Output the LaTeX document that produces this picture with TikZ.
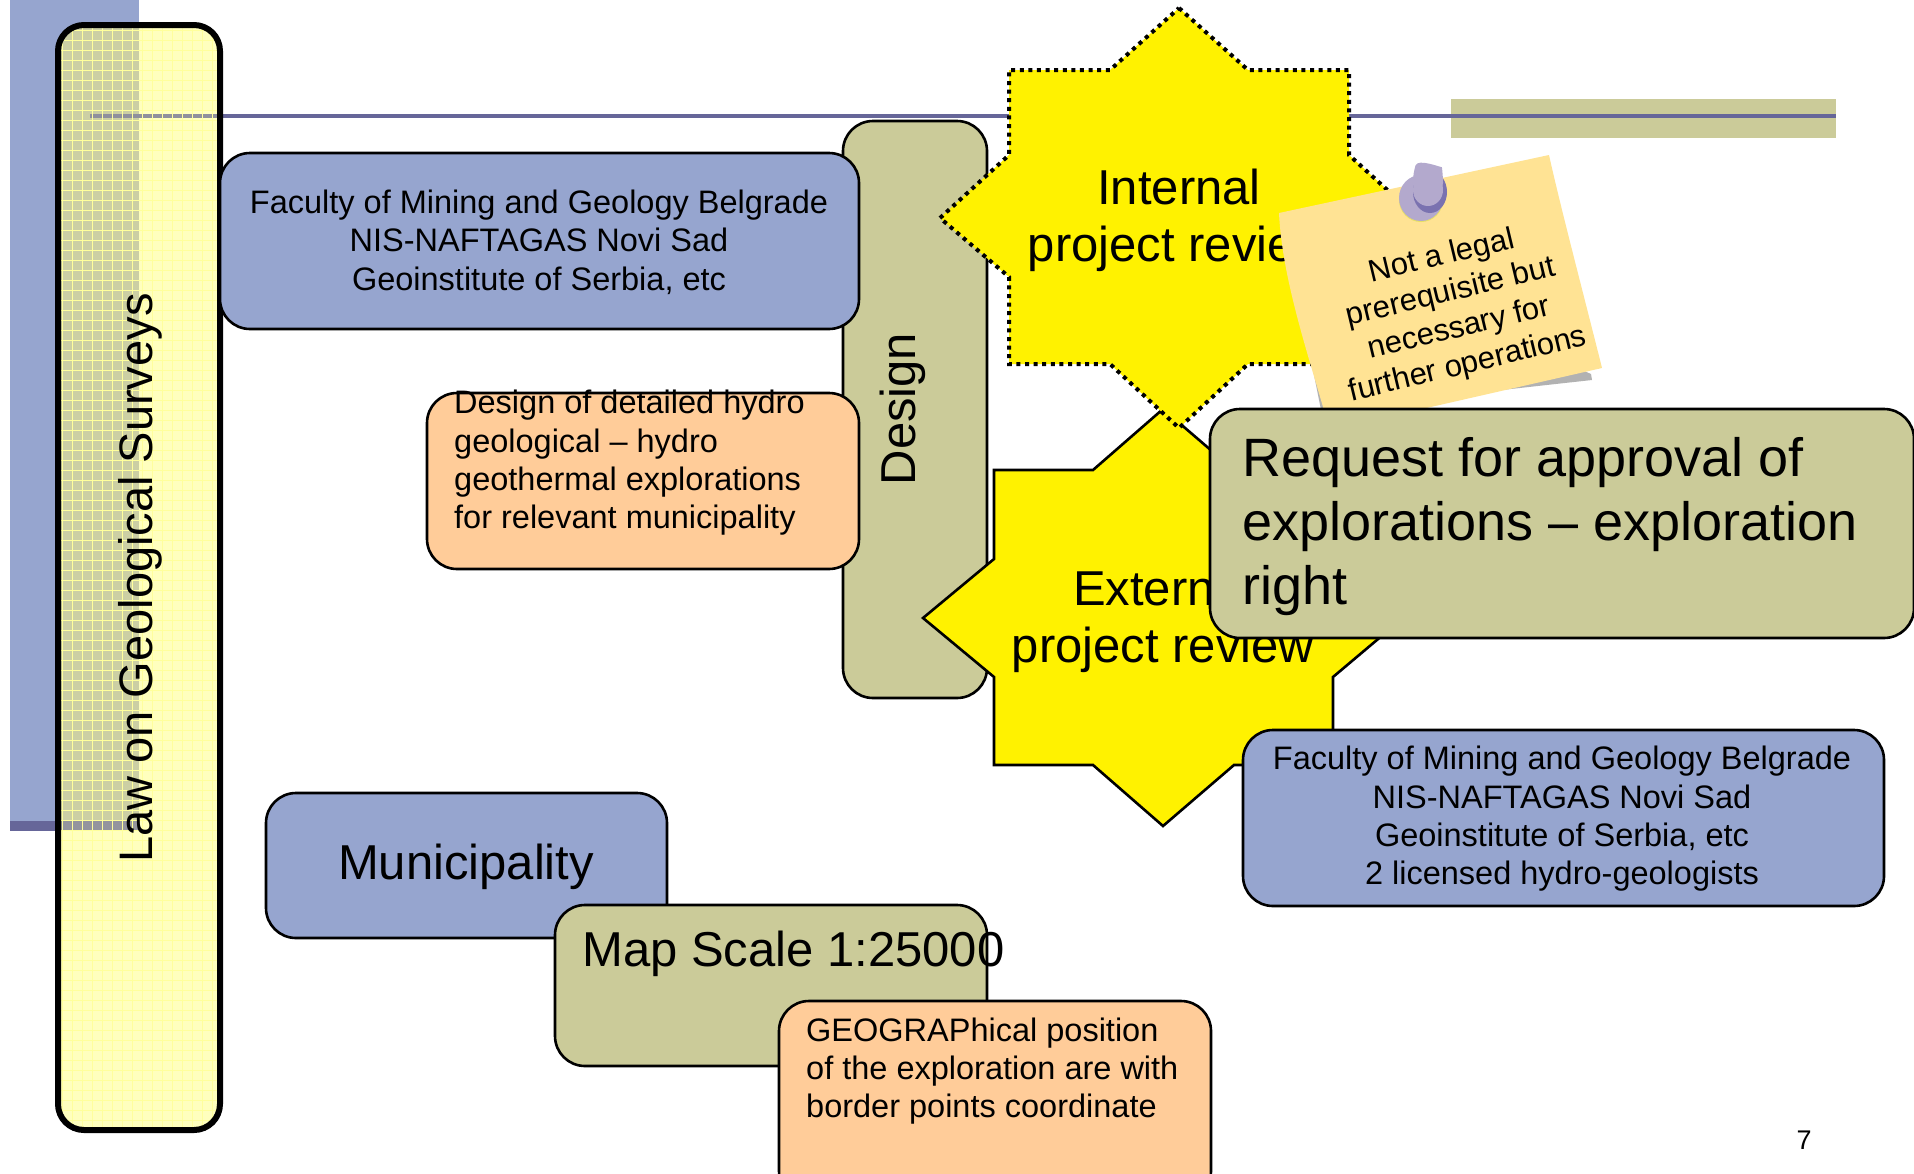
\documentclass[tikz,border=0pt]{standalone}
\usepackage{fontspec}
\setmainfont{Liberation Sans}
\definecolor{bluefill}{HTML}{96A5CF}
\definecolor{olivefill}{HTML}{CBCB99}
\definecolor{orangefill}{HTML}{FFCC99}
\definecolor{barcol}{HTML}{666699}
\definecolor{lawfill}{HTML}{FFFFBE}
\definecolor{lawgrid}{HTML}{FFFF9C}
\definecolor{lawdark}{HTML}{CCCFA4}
\definecolor{notefill}{HTML}{FFE394}
\definecolor{pinlight}{HTML}{B3A9CD}
\definecolor{pindark}{HTML}{7A72B0}
\tikzset{
  x=1pt,y=-1pt,
  boxbase/.style={draw=black,line width=2.6pt,rounded corners=30pt,inner sep=0pt},
  bluebox/.style={boxbase,fill=bluefill},
  olivebox/.style={boxbase,fill=olivefill},
  orangebox/.style={boxbase,fill=orangefill},
  txt/.style={inner sep=0pt,text=black},
  small/.style={txt,font=\fontsize{32.5}{38.3}\selectfont},
  big/.style={txt,font=\fontsize{54}{64}\selectfont},
  mid/.style={txt,font=\fontsize{49}{57}\selectfont},
  notetxt/.style={txt,font=\fontsize{31}{37}\selectfont,rotate=13.5,align=center},
}
\begin{document}
\begin{tikzpicture}
\useasboundingbox (0,0) rectangle (1914,1173);
% background decoration
\fill[bluefill] (10,0) rectangle (139,830);
\fill[barcol] (10,821) rectangle (139,831);
\fill[olivefill] (1451,99) rectangle (1836,138);
\fill[barcol] (90,113.5) rectangle (1836,118);
% law box
\fill[lawfill,rounded corners=26pt] (58,25) rectangle (220,1130);
\begin{scope}
\clip[rounded corners=26pt] (58,25) rectangle (220,1130);
\fill[lawdark] (58,25) rectangle (139,831);
\fill[barcol!55!lawdark] (58,821) rectangle (139,831);
\fill[barcol!60!lawdark] (90,113.5) rectangle (220,118);
\foreach \gx in {62,72,...,222}{\draw[lawgrid,line width=1pt] (\gx,25) -- (\gx,1130);}
\foreach \gy in {30,40,...,1130}{\draw[lawgrid,line width=1pt] (58,\gy) -- (220,\gy);}
\end{scope}
\node[draw=black,line width=6pt,rounded corners=26pt,minimum width=162pt,minimum height=1105pt,inner sep=0pt] (law) at (139,577.5) {};
\node[mid,rotate=90,font=\fontsize{47}{57}\selectfont] (lawtxt) at (140,578) {Law on Geological Surveys};
% design
\node[olivebox,minimum width=144pt,minimum height=577pt] (design) at (915,409.5) {};
\node[mid,rotate=90] (designtxt) at (903,409) {Design};
% first blue
\node[bluebox,minimum width=639pt,minimum height=176pt] (fac) at (539.5,241) {};
\node[small,align=center] (factxt) at (539,242) {Faculty of Mining and Geology Belgrade\\NIS-NAFTAGAS Novi Sad\\Geoinstitute of Serbia, etc};
% orange
\node[orangebox,minimum width=432pt,minimum height=176pt] (hyd) at (643,481) {};
\node[small,align=left,anchor=west] (hydtxt) at (454,463) {Design of detailed hydro\\geological -- hydro\\geothermal explorations\\for relevant municipality};
% external star
\path[fill=yellow,draw=black,line width=2.6pt] (1163,409) -- (1234,470) -- (1333,470) -- (1333,559) -- (1403,618) -- (1333,677) -- (1333,765) -- (1234,765) -- (1163,826) -- (1093,765) -- (994,765) -- (994,677) -- (923,618) -- (994,559) -- (994,470) -- (1093,470) -- cycle;
\node[mid,align=center] (exttxt) at (1163,621) {External\\project review};
% internal star
\path[fill=yellow,draw=black,line width=4pt,dash pattern=on 4pt off 4.6pt] (1179,8) -- (1248,70) -- (1349,70) -- (1349,155) -- (1418,218) -- (1349,277) -- (1349,364) -- (1248,364) -- (1179,428) -- (1110,364) -- (1009,364) -- (1009,277) -- (940,218) -- (1009,155) -- (1009,70) -- (1110,70) -- cycle;
\node[mid,align=center] (inttxt) at (1179,220) {Internal\\project review};
% note
\fill[black!30!white,draw=none] (1287,240) -- (1321,410) -- (1592,380) -- (1591,374) -- cycle;
\fill[notefill] (1279,213) -- (1549,155) .. controls (1560,205) and (1585,300) .. (1602,368) -- (1330,430) -- (1323,407) .. controls (1305,345) and (1282,275) .. (1279,213) -- cycle;
\fill[yellow!45!olivefill] (1421,200) circle (22pt);
\fill[pinlight] (1421,198) ellipse (22pt and 23pt);
\fill[pindark] (1430,192) ellipse (17pt and 21pt);
\fill[pinlight] (1428,184) circle (0pt);
\fill[pinlight,rounded corners=8pt] (1413,173) .. controls (1418,158) and (1442,168) .. (1443,175) -- (1443,190) .. controls (1430,205) and (1420,195) .. (1413,185) -- cycle;
\fill[pinlight] (1428,190) ellipse (15pt and 16pt);
\node[notetxt] (notetxt) at (1455,311) {Not a legal\\prerequisite but\\necessary for\\further operations};
% request
\node[olivebox,minimum width=704pt,minimum height=229pt] (req) at (1562,523.5) {};
\node[big,align=left,anchor=west] (reqtxt) at (1242,527) {Request for approval of\\explorations -- exploration\\right};
% second blue
\node[bluebox,minimum width=641pt,minimum height=176pt] (fac2) at (1563.5,818) {};
\node[small,align=center] (fac2txt) at (1562,819) {Faculty of Mining and Geology Belgrade\\NIS-NAFTAGAS Novi Sad\\Geoinstitute of Serbia, etc\\2 licensed hydro-geologists};
% bottom stack
\node[bluebox,minimum width=401pt,minimum height=145pt] (muni) at (466.5,865.5) {};
\node[mid] (munitxt) at (466,867) {Municipality};
\node[olivebox,minimum width=432pt,minimum height=161pt] (map) at (771,985.5) {};
\node[mid,anchor=west] (maptxt) at (582,954) {Map Scale 1:25000};
\node[orangebox,minimum width=432pt,minimum height=200pt] (geo) at (995,1101) {};
\node[small,align=left,anchor=west] (geotxt) at (806,1071) {GEOGRAPhical position\\of the exploration are with\\border points coordinate};
\node[txt,font=\fontsize{27}{30}\selectfont] (page) at (1804,1140) {7};
\end{tikzpicture}
\end{document}
